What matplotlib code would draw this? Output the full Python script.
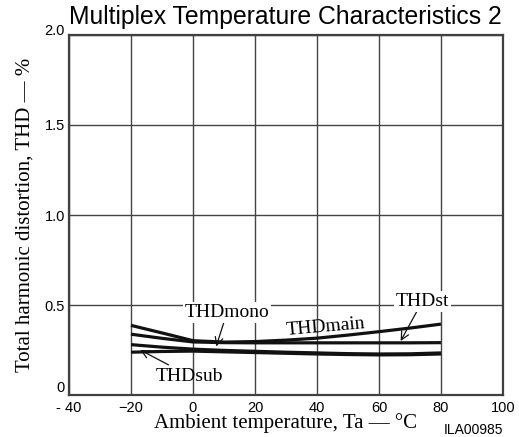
import matplotlib
matplotlib.use('Agg')
import matplotlib.pyplot as plt
import matplotlib.transforms as mtransforms

# temperatures (deg C) and THD (%)
temp = [-20, -10, 0, 10, 20, 30, 40, 50, 60, 70, 80]
thd_main = [0.387, 0.345, 0.302, 0.294, 0.297, 0.305, 0.316, 0.333, 0.352, 0.372, 0.394]
thd_st = [0.338, 0.315, 0.295, 0.291, 0.290, 0.290, 0.290, 0.290, 0.290, 0.290, 0.291]
thd_sub = [0.280, 0.266, 0.255, 0.248, 0.243, 0.238, 0.234, 0.230, 0.228, 0.229, 0.234]
thd_mono = [0.238, 0.242, 0.244, 0.240, 0.236, 0.232, 0.228, 0.225, 0.223, 0.224, 0.228]

xticks = [-40, -20, 0, 20, 40, 60, 80, 100]
xticklabels = ['- 40', '\u221220', '0', '20', '40', '60', '80', '100']
yticks = [0, 0.5, 1.0, 1.5, 2.0]
yticklabels = ['0', '0.5', '1.0', '1.5', '2.0']

serif = 'Liberation Serif'
sans = 'Liberation Sans'

fig = plt.figure(figsize=(5.19, 4.37), dpi=100)
ax = fig.add_axes([0.133, 0.096, 0.836, 0.824])

for series in (thd_main, thd_st, thd_sub, thd_mono):
    ax.plot(temp, series, color='#111111', lw=2.3, solid_capstyle='butt', zorder=3)

ax.set_xlim(-40, 100)
ax.set_ylim(0, 2.0)
ax.set_xticks(xticks)
ax.set_xticklabels(xticklabels, fontfamily=sans, fontsize=10.5)
ax.set_yticks(yticks)
ax.set_yticklabels(yticklabels, fontfamily=sans, fontsize=10.5)
ax.tick_params(length=0)
ax.tick_params(axis='x', pad=4)
ax.tick_params(axis='y', pad=3)
# the end labels on the y axis sit a little above their lines
ylabs = ax.get_yticklabels()
ylabs[0].set_transform(ylabs[0].get_transform() +
                       mtransforms.ScaledTranslation(0, 0.09, fig.dpi_scale_trans))
ylabs[-1].set_transform(ylabs[-1].get_transform() +
                        mtransforms.ScaledTranslation(0, 0.05, fig.dpi_scale_trans))

ax.grid(True, color='#444444', lw=1, zorder=1)
for s in ax.spines.values():
    s.set_color('#404040')
    s.set_linewidth(1.6)

ax.set_xlabel('Ambient temperature, Ta \u2014 \u00b0C', fontfamily=serif, fontsize=15, labelpad=-1)
ax.set_ylabel('Total harmonic distortion, THD \u2014 %', fontfamily=serif, fontsize=15, labelpad=7)
fig.text(0.55, 0.962, 'Multiplex Temperature Characteristics 2', fontfamily=sans,
         fontsize=17.8, ha='center', va='center')
fig.text(0.913, 0.0, 'ILA00985', fontfamily=sans, fontsize=10, ha='center', va='bottom')

# curve labels with arrows
lab = dict(fontfamily=serif, fontsize=14, ha='center', va='center')
box = dict(boxstyle='square,pad=0.1', fc='white', ec='none')
arr = dict(arrowstyle='->', lw=0.9, color='#111111', shrinkA=0, shrinkB=0)

ax.annotate('THDmono', xy=(7.5, 0.27), xytext=(11, 0.46), bbox=box,
            arrowprops=dict(arr), **lab)
ax.annotate('THDst', xy=(67, 0.30), xytext=(74, 0.52), bbox=box,
            arrowprops=dict(arr), **lab)
ax.annotate('THDsub', xy=(-17, 0.25), xytext=(-1, 0.105),
            arrowprops=dict(arr), **lab)
ax.text(43, 0.38, 'THDmain', rotation=5, zorder=4, **lab)

fig.savefig('out.png', dpi=100)
